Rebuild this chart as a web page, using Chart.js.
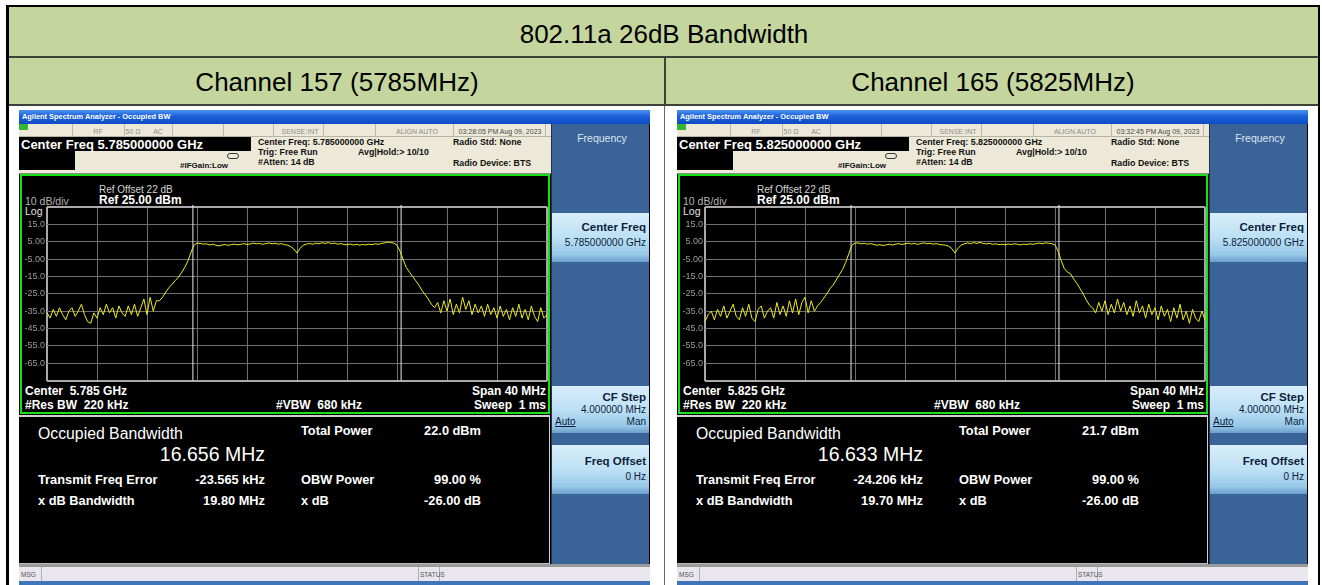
<!DOCTYPE html>
<html>
<head>
<meta charset="utf-8">
<script src="https://cdn.jsdelivr.net/npm/chart.js@4.4.0/dist/chart.umd.min.js"></script>
<style>
  html, body { margin: 0; padding: 0; background: #fff; }
  body { width: 1322px; height: 585px; overflow: hidden; position: relative;
         font-family: "Liberation Sans", Arial, sans-serif; }
  .abs { position: absolute; box-sizing: border-box; }
  .txt { position: absolute; white-space: pre; }
  canvas { position: absolute; }
</style>
</head>
<body>
<script>
// ---- data ----
const sweepStartMHz = -20
const sweepStepMHz = 0.25

// Channel 157 trace, dBm, one value per 0.25 MHz from -20 to +20 MHz offset
const trace157 = [
  -36, -39, -34, -38, -33, -37, -40, -35, -33, -38,
  -35, -31, -37, -41, -42, -36, -39, -33, -37, -31,
  -36, -33, -39, -32, -36, -38, -32, -37, -31, -38,
  -33, -28, -37, -27, -35, -29,
  -29, -27, -24, -21.5, -19.5, -17.5, -15.5, -13, -10, -6.5, -1.5, 3, 4.2,
  4.0, 3.6, 3.8, 3.2, 3.5, 3.0, 2.6, 3.1, 3.4, 2.9,
  3.3, 3.6, 3.2, 3.5, 3.9, 3.4, 3.7, 4.2, 3.8, 4.0,
  3.5, 3.9, 4.3, 3.8, 4.1, 3.6, 3.9, 3.3, 3.0, 2.2,
  0.8, -1.5, 1.2, 3.0, 3.6, 4.0, 3.5, 4.2, 3.8, 4.4,
  4.0, 4.5, 3.9, 4.2, 3.6, 3.9, 3.4, 3.2, 3.7, 3.1,
  3.5, 3.0, 3.4, 3.2, 3.6, 3.3, 3.8, 3.5, 4.0, 4.3,
  4.8, 4.5, 4.2, 3.0,
  -0.5, -5.5, -10, -12.5, -15, -17.5, -20, -23, -25.5, -28, -31, -33,
  -30, -36, -29, -35, -28, -37, -31, -36, -27, -34,
  -29, -37, -31, -36, -32, -38, -31, -37, -33, -39,
  -32, -38, -34, -40, -33, -38, -31, -39, -34, -40,
  -32, -38, -41, -33, -39, -37
]

// Channel 165 trace, same sweep points
const trace165 = [
  -41, -37, -35, -40, -34, -38, -32, -39, -35, -31,
  -38, -40, -33, -38, -31, -39, -41, -34, -32, -39,
  -35, -33, -39, -30, -37, -32, -38, -29, -36, -28,
  -37, -30, -27, -36, -29, -35,
  -32, -30, -27.5, -25, -22, -20, -17, -14, -11, -7, -2, 3, 4.2,
  4.3, 3.8, 4.1, 3.6, 3.9, 3.4, 3.0, 3.3, 2.8, 3.2,
  3.5, 3.1, 3.6, 3.9, 3.4, 3.8, 4.2, 3.7, 4.0, 3.5,
  3.9, 4.4, 3.8, 4.1, 3.6, 3.9, 3.4, 3.2, 3.0, 2.4,
  1.0, -1.5, 1.3, 3.1, 3.8, 4.3, 3.9, 4.5, 4.1, 4.6,
  4.0, 3.7, 4.1, 3.5, 3.8, 3.3, 3.6, 3.2, 3.7, 3.4,
  3.8, 3.5, 3.2, 3.6, 3.4, 3.8, 3.5, 3.9, 4.2, 3.8,
  4.4, 4.1, 3.9, 3.2,
  -0.5, -6, -10.5, -12.5, -13.5, -16.5, -19, -22, -25, -28.5, -31.5, -33,
  -36, -30, -35, -29, -37, -31, -36, -28, -35, -30,
  -37, -32, -38, -29, -36, -32, -39, -31, -37, -33,
  -40, -32, -38, -34, -41, -33, -39, -31, -40, -35,
  -42, -34, -39, -41, -35, -40
]

const gridFreqMHz = [-20, -16, -12, -8, -4, 0, 4, 8, 12, 16, 20]
const gridLevels = [25, 15, 5, -5, -15, -25, -35, -45, -55, -65, -75]
const levelLabels = ["", "15.0", "5.00", "-5.00", "-15.0", "-25.0", "-35.0", "-45.0", "-55.0", "-65.0", ""]

const pageTitle = "802.11a 26dB Bandwidth"
const channelNames = ["Channel 157 (5785MHz)", "Channel 165 (5825MHz)"]
const centerGHz = ["5.785", "5.825"]
const timestamps = ["03:28:05 PM Aug 09, 2023", "03:32:45 PM Aug 09, 2023"]
const obwMHz = [16.656, 16.633]
const totalPower = ["22.0 dBm", "21.7 dBm"]
const freqError = ["-23.565 kHz", "-24.206 kHz"]
const xdbBandwidth = ["19.80 MHz", "19.70 MHz"]
const traces = [trace157, trace165]

Chart.defaults.font.family = '"Liberation Sans", Arial, sans-serif'

// ---- small DOM helpers ----
function box(parent, x, y, w, h, style) {
  const d = document.createElement("div")
  d.className = "abs"
  Object.assign(d.style, { left: x + "px", top: y + "px", width: w + "px", height: h + "px" }, style || {})
  parent.appendChild(d)
  return d
}

function text(parent, str, x, cy, size, opt) {
  opt = opt || {}
  const d = document.createElement("div")
  d.className = "txt"
  d.textContent = str
  d.style.left = x + "px"
  d.style.top = (cy - size * 0.5) + "px"
  d.style.fontSize = size + "px"
  d.style.lineHeight = size + "px"
  d.style.fontWeight = opt.bold ? "bold" : "normal"
  d.style.color = opt.color || "#fff"
  if (opt.align === "right") d.style.transform = "translateX(-100%)"
  if (opt.align === "center") d.style.transform = "translateX(-50%)"
  if (opt.underline) d.style.textDecoration = "underline"
  parent.appendChild(d)
  return d
}

// ---- table around the screenshots ----
const body = document.body
box(body, 6, 5, 1314, 600, { border: "2px solid #000", borderLeftWidth: "3px" })
box(body, 9, 7, 1309, 49, { background: "#c4d69d" })
box(body, 9, 56, 1309, 2, { background: "#3e4236" })
box(body, 9, 58, 1309, 46, { background: "#c4d69d" })
box(body, 664, 58, 2, 47, { background: "#3e4236" })
box(body, 9, 104, 1309, 2, { background: "#3e4236" })
box(body, 664, 106, 1, 480, { background: "#6a6a6a" })
text(body, pageTitle, 664, 34, 26, { color: "#000", align: "center" })
text(body, channelNames[0], 337, 82, 26, { color: "#000", align: "center" })
text(body, channelNames[1], 993, 82, 26, { color: "#000", align: "center" })

// ---- one analyzer screen (coordinates are those of the left screen) ----
function buildScreen(idx, shift) {
  const s = box(body, shift, 0, 1322, 585, {})
  const dark = "#111"
  box(s, 19, 110, 631, 475, { background: "#000" })
  // window title bar
  box(s, 19, 110, 631, 14, { background: "linear-gradient(#4d92ef, #1c60da 45%, #0b4cc4)" })
  text(s, "Agilent Spectrum Analyzer - Occupied BW", 22, 117, 7.4, { bold: true })
  // status row
  box(s, 19, 124, 532, 13, { background: "#ece9d8", borderBottom: "1px solid #b8b4a4" })
  box(s, 19, 124, 9, 6, { background: "#36b636" })
  ;[72, 124, 172, 223, 273, 323, 375, 453, 545].forEach(x => box(s, x, 124, 1, 13, { background: "#bdb9aa" }))
  text(s, "RF", 98, 131, 7, { color: "#8c8c8c", align: "center" })
  text(s, "50 Ω", 133, 131, 7, { color: "#8c8c8c", align: "center" })
  text(s, "AC", 158, 131, 7, { color: "#8c8c8c", align: "center" })
  text(s, "SENSE:INT", 300, 131, 7, { color: "#8c8c8c", align: "center" })
  text(s, "ALIGN AUTO", 417, 131, 7, { color: "#8c8c8c", align: "center" })
  text(s, timestamps[idx], 500, 131, 7, { color: "#4a4a4a", align: "center" })
  // header block
  box(s, 19, 137, 532, 36, { background: "#ece9d8" })
  box(s, 19, 137, 232, 14, { background: "#000" })
  box(s, 19, 151, 56, 19, { background: "#000" })
  text(s, "Center Freq " + centerGHz[idx] + "000000 GHz", 21, 144, 13, { bold: true })
  box(s, 227, 153, 12, 6, { border: "1px solid #333", borderRadius: "3px" })
  text(s, "#IFGain:Low", 180, 166, 8, { bold: true, color: dark })
  text(s, "Center Freq: " + centerGHz[idx] + "000000 GHz", 258, 142.5, 8.8, { bold: true, color: dark })
  text(s, "Trig: Free Run", 258, 152.5, 8.8, { bold: true, color: dark })
  text(s, "#Atten: 14 dB", 258, 162.5, 8.8, { bold: true, color: dark })
  text(s, "Avg|Hold:> 10/10", 358, 152.5, 8.8, { bold: true, color: dark })
  text(s, "Radio Std: None", 453, 142, 8.8, { bold: true, color: dark })
  text(s, "Radio Device: BTS", 453, 163.5, 8.8, { bold: true, color: dark })
  box(s, 19, 173, 532, 1, { background: "#8a8a8a" })
  // graticule window
  box(s, 20, 174, 530, 240, { border: "2px solid #16e016", background: "#000" })
  text(s, "Ref Offset 22 dB", 99, 190, 10, { color: "#d4d4d4" })
  text(s, "Ref 25.00 dBm", 99, 200, 12, { bold: true })
  text(s, "10 dB/div", 25, 201, 10.5, { color: "#b4b4b4" })
  text(s, "Log", 25, 211.5, 10.5, { color: "#e0e0e0" })
  text(s, "Center  " + centerGHz[idx] + " GHz", 25, 391, 12, { bold: true })
  text(s, "#Res BW  220 kHz", 25, 404.5, 12, { bold: true })
  text(s, "#VBW  680 kHz", 276, 404.5, 12, { bold: true })
  text(s, "Span 40 MHz", 546, 391, 12, { bold: true, align: "right" })
  text(s, "Sweep  1 ms", 546, 404.5, 12, { bold: true, align: "right" })
  const cv = document.createElement("canvas")
  cv.width = 527
  cv.height = 190
  cv.style.left = "21px"
  cv.style.top = "198px"
  cv.style.width = "527px"
  cv.style.height = "190px"
  s.appendChild(cv)
  drawTrace(cv, traces[idx], obwMHz[idx])
  // results panel
  box(s, 19, 415, 531, 2, { background: "#cfcfcf" })
  box(s, 19, 417, 531, 147, { background: "#000", borderRight: "1px solid #d0d0d0", borderBottom: "1px solid #bcbcbc" })
  text(s, "Occupied Bandwidth", 38, 434, 15.8)
  text(s, obwMHz[idx].toFixed(3) + " MHz", 265, 455, 19.5, { align: "right" })
  text(s, "Total Power", 301, 431.5, 12.8, { bold: true })
  text(s, totalPower[idx], 481, 431.5, 12.8, { bold: true, align: "right" })
  text(s, "Transmit Freq Error", 38, 480.5, 12.8, { bold: true })
  text(s, freqError[idx], 265, 480.5, 12.8, { bold: true, align: "right" })
  text(s, "OBW Power", 301, 480.5, 12.8, { bold: true })
  text(s, "99.00 %", 481, 480.5, 12.8, { bold: true, align: "right" })
  text(s, "x dB Bandwidth", 38, 501.5, 12.8, { bold: true })
  text(s, xdbBandwidth[idx], 265, 501.5, 12.8, { bold: true, align: "right" })
  text(s, "x dB", 301, 501.5, 12.8, { bold: true })
  text(s, "-26.00 dB", 481, 501.5, 12.8, { bold: true, align: "right" })
  // softkey panel
  box(s, 551, 124, 98, 440, { background: "#3a6398", borderLeft: "1px solid #1e3350" })
  text(s, "Frequency", 602, 138, 10.5, { color: "#dde6f1", align: "center" })
  const key = "linear-gradient(#d8eefb 0%, #bde0f4 50%, #97c8e8 85%, #6c9fcb 100%)"
  const ink = "#0c1d3c"
  box(s, 552, 213, 97, 49, { background: key })
  text(s, "Center Freq", 646, 227.5, 11.5, { bold: true, color: ink, align: "right" })
  text(s, centerGHz[idx] + "000000 GHz", 646, 243, 10, { color: ink, align: "right" })
  box(s, 552, 386, 97, 47, { background: key })
  text(s, "CF Step", 646, 398, 11.5, { bold: true, color: ink, align: "right" })
  text(s, "4.000000 MHz", 646, 410, 10, { color: ink, align: "right" })
  text(s, "Auto", 555, 422, 10, { color: ink, underline: true })
  text(s, "Man", 646, 422, 10, { color: ink, align: "right" })
  box(s, 552, 445, 97, 49, { background: key })
  text(s, "Freq Offset", 646, 461.5, 11.5, { bold: true, color: ink, align: "right" })
  text(s, "0 Hz", 646, 476.5, 10, { color: ink, align: "right" })
  // message bar
  box(s, 19, 564, 631, 3, { background: "#9a9a9a" })
  box(s, 19, 567, 631, 14, { background: "#e9e6ee" })
  box(s, 41, 567, 1, 14, { background: "#b0b0b0" })
  box(s, 418, 567, 1, 14, { background: "#b0b0b0" })
  box(s, 439, 567, 1, 14, { background: "#b0b0b0" })
  text(s, "MSG", 21, 575, 6.5, { color: "#555" })
  text(s, "STATUS", 420, 575, 6.5, { color: "#555" })
  box(s, 19, 581, 631, 4, { background: "#3f74b8" })
}

function drawTrace(canvas, trace, obw) {
  const pts = trace.map((v, i) => ({ x: sweepStartMHz + i * sweepStepMHz, y: v }))
  const half = obw / 2
  const edgeX = c => c.tick && (c.tick.value === -20 || c.tick.value === 20)
  const edgeY = c => c.tick && (c.tick.value === 25 || c.tick.value === -75)
  new Chart(canvas.getContext("2d"), {
    type: "line",
    data: {
      datasets: [
        { data: pts, borderColor: "#eded1c", borderWidth: 1, pointRadius: 0, tension: 0 },
        { data: [{ x: -half, y: -75 }, { x: -half, y: 26.2 }], borderColor: "#e8e8e8", borderWidth: 1, pointRadius: 0, clip: false },
        { data: [{ x: half, y: -75 }, { x: half, y: 26.2 }], borderColor: "#e8e8e8", borderWidth: 1, pointRadius: 0, clip: false },
      ],
    },
    options: {
      responsive: false,
      animation: false,
      events: [],
      layout: { padding: { top: 9, right: 1, bottom: 7, left: 0 } },
      plugins: { legend: { display: false }, tooltip: { enabled: false } },
      scales: {
        x: {
          type: "linear",
          min: -20,
          max: 20,
          afterBuildTicks: s => { s.ticks = gridFreqMHz.map(v => ({ value: v })) },
          afterFit: s => { s.height = 0 },
          ticks: { display: false },
          grid: { drawTicks: false, color: c => edgeX(c) ? "#a9a9a9" : "#6f6f6f", lineWidth: c => edgeX(c) ? 2 : 1 },
          border: { display: false },
        },
        y: {
          min: -75,
          max: 25,
          afterBuildTicks: s => { s.ticks = gridLevels.map(v => ({ value: v })) },
          afterFit: s => { s.width = 26 },
          ticks: {
            color: "#9c9c9c",
            font: { size: 9 },
            padding: 2,
            autoSkip: false,
            callback: v => levelLabels[gridLevels.indexOf(v)],
          },
          grid: { drawTicks: false, color: c => edgeY(c) ? "#a9a9a9" : "#6f6f6f", lineWidth: c => edgeY(c) ? 2 : 1 },
          border: { display: false },
        },
      },
    },
  })
}

buildScreen(0, 0)
buildScreen(1, 658)
</script>
</body>
</html>
